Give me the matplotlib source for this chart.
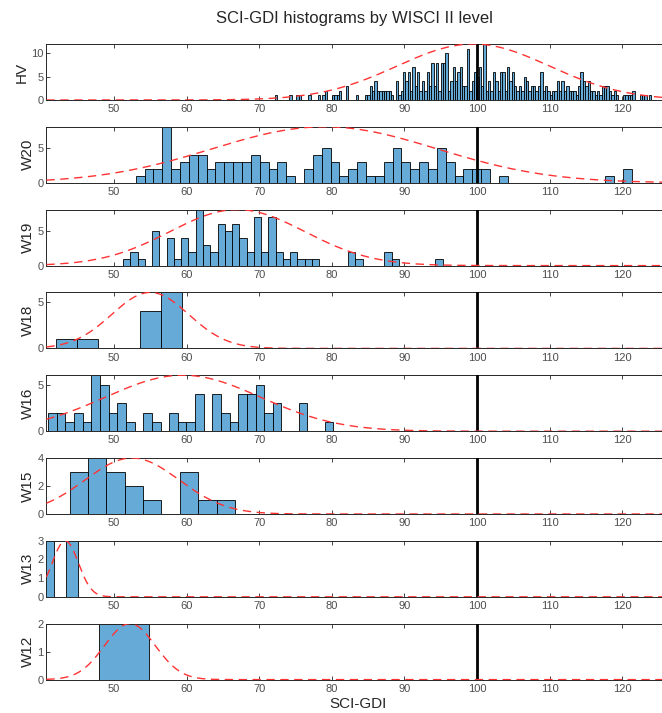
import numpy as np
import matplotlib.pyplot as plt

plt.rcParams['font.family'] = ['Liberation Sans', 'DejaVu Sans']

# level names, top to bottom
levels = ['HV', 'W20', 'W19', 'W18', 'W16', 'W15', 'W13', 'W12']

# histogram bins: first edge, bin width, counts per bin
hv_start, hv_width = 72.2, 0.326
hv_counts = [1, 0, 0, 0, 0, 0, 1, 0, 0, 1, 1, 0, 0, 0, 1, 0, 0, 0, 1, 0,
             1, 2, 0, 0, 1, 1, 1, 2, 0, 0, 3, 0, 0, 0, 1, 0, 0, 0, 1, 1,
             3, 2, 4, 2, 2, 2, 2, 2, 2, 1, 0, 4, 1, 2, 6, 4, 6, 2, 7, 3,
             6, 2, 4, 2, 6, 3, 8, 3, 8, 2, 8, 8, 10, 2, 4, 7, 4, 6, 7, 3,
             3, 11, 2, 4, 6, 5, 7, 3, 12, 2, 4, 2, 6, 4, 2, 6, 6, 2, 7, 4,
             6, 3, 2, 3, 2, 5, 4, 2, 3, 3, 2, 3, 6, 2, 3, 2, 1, 2, 2, 4,
             2, 4, 2, 3, 2, 2, 2, 1, 3, 6, 4, 3, 4, 2, 2, 1, 2, 1, 3, 3,
             3, 2, 1, 2, 1, 0, 0, 1, 1, 1, 1, 2, 0, 0, 1, 1, 1, 0, 1]

w20_start, w20_width = 53.0, 1.22
w20_counts = [1, 2, 2, 8, 2, 3, 4, 4, 2, 3, 3, 3, 3, 4, 3, 2, 3, 1, 0, 2,
              4, 5, 3, 1, 2, 3, 1, 1, 3, 5, 3, 2, 3, 2, 5, 3, 1, 2, 2, 2,
              0, 1, 0, 0, 0, 0, 0, 0, 0, 0, 0, 0, 0, 1, 0, 2]

w19_start, w19_width = 51.27, 1.0
w19_counts = [1, 2, 1, 0, 5, 0, 4, 1, 4, 2, 8, 3, 2, 6, 5, 6, 4, 2, 7, 2,
              7, 2, 1, 2, 1, 1, 1, 0, 0, 0, 0, 2, 1, 0, 0, 0, 2, 1, 0, 0,
              0, 0, 0, 1]

w18_start, w18_width = 42.0, 2.9
w18_counts = [1, 1, 0, 0, 4, 6]

w16_start, w16_width = 40.95, 1.19
w16_counts = [2, 2, 1, 2, 1, 6, 5, 2, 3, 1, 0, 2, 1, 0, 2, 1, 1, 4, 0, 4,
              2, 1, 4, 4, 5, 2, 3, 0, 0, 3, 0, 0, 1]

w15_start, w15_width = 43.9, 2.53
w15_counts = [3, 4, 3, 2, 1, 0, 3, 1, 1]

w13_start, w13_width = 40.0, 1.7
w13_counts = [3, 0, 3]

w12_start, w12_width = 48.0, 6.9
w12_counts = [2]

# fitted normal curves: mean and standard deviation per level
fit_mu = [99.5, 79.0, 67.0, 55.0, 59.5, 52.5, 43.3, 52.2]
fit_sd = [10.5, 15.5, 9.3, 5.3, 10.7, 6.5, 1.8, 3.5]

y_ticks = [[0, 5, 10], [0, 5], [0, 5], [0, 5], [0, 5], [0, 2, 4],
           [0, 1, 2, 3], [0, 1, 2]]

hists = [(hv_start, hv_width, hv_counts),
         (w20_start, w20_width, w20_counts),
         (w19_start, w19_width, w19_counts),
         (w18_start, w18_width, w18_counts),
         (w16_start, w16_width, w16_counts),
         (w15_start, w15_width, w15_counts),
         (w13_start, w13_width, w13_counts),
         (w12_start, w12_width, w12_counts)]

x_lo, x_hi = 40.7, 126.5
W, H = 662, 713
fig = plt.figure(figsize=(W / 100, H / 100), dpi=100)

left_px, px_per_unit = 46.4, 7.26
ax_w = (x_hi - x_lo) * px_per_unit
grey = (0.15, 0.15, 0.15)
bar_col = (0.4, 0.67, 0.845)
xs = np.linspace(x_lo, x_hi, 600)

for i, name in enumerate(levels):
    top = 44 + 82.8 * i
    ax = fig.add_axes([left_px / W, 1 - (top + 56) / H, ax_w / W, 56 / H])
    start, width, counts = hists[i]
    counts = np.array(counts)
    edges = start + width * np.arange(len(counts))
    ax.bar(edges, counts, width=width, align='edge', color=bar_col,
           edgecolor='black', linewidth=0.6, zorder=2)
    ax.axvline(100, color='black', linewidth=2, zorder=3)
    peak = counts.max()
    ax.plot(xs, peak * np.exp(-(xs - fit_mu[i]) ** 2 / (2 * fit_sd[i] ** 2)),
            '--', color=(1, 0.2, 0.2), linewidth=1, dashes=(6, 4), zorder=4)
    ax.set_xlim(x_lo, x_hi)
    ax.set_ylim(0, peak)
    ax.set_xticks(range(50, 121, 10))
    ax.set_yticks(y_ticks[i])
    ax.tick_params(direction='in', length=3, width=0.6, colors=grey,
                   labelsize=8, top=True, right=False, pad=3)
    ax.tick_params(axis='x', labelcolor=(0.3, 0.3, 0.3))
    ax.tick_params(axis='y', labelcolor=(0.3, 0.3, 0.3), pad=2)
    for s in ax.spines.values():
        s.set_color(grey)
        s.set_linewidth(0.7)
    ax.set_ylabel(name, fontsize=11, color=grey, labelpad=2)
    if i == len(levels) - 1:
        ax.set_xlabel('SCI-GDI', fontsize=11, color=grey, labelpad=2)

fig.text(0.5 * (46.4 + 662) / W, 1 - 18 / H, 'SCI-GDI histograms by WISCI II level',
         ha='center', va='center', fontsize=12, color=grey)

fig.savefig('out.png', dpi=100)
